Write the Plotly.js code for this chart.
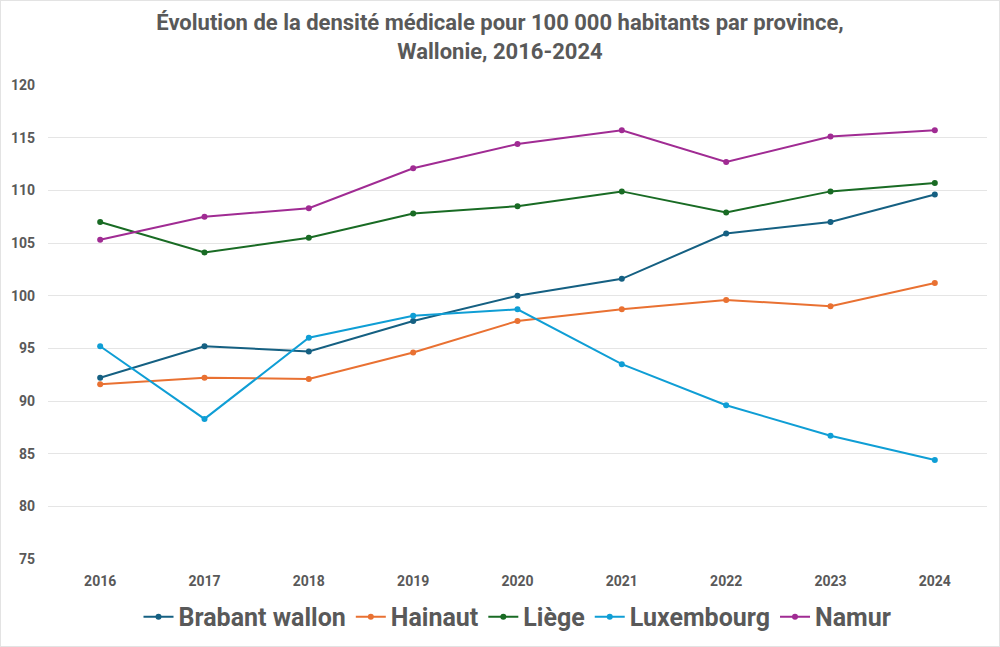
<!DOCTYPE html>
<html>
<head>
<meta charset="utf-8">
<script src="https://cdn.plot.ly/plotly-3.0.1.min.js"></script>
<style>
  body { margin: 0; background: #fff; }
  #chart { position: absolute; left: 0; top: 0; width: 1000px; height: 647px;
           box-sizing: border-box; border: 1px solid #e3e3e3; }
</style>
</head>
<body>
<div id="chart"></div>
<script>
// years on the x axis
const years = ['2016', '2017', '2018', '2019', '2020', '2021', '2022', '2023', '2024'];

// medical density per 100 000 inhabitants
const brabantWallon = [92.2, 95.2, 94.7, 97.6, 100.0, 101.6, 105.9, 107.0, 109.6];
const hainaut       = [91.6, 92.2, 92.1, 94.6, 97.6, 98.7, 99.6, 99.0, 101.2];
const liege         = [107.0, 104.1, 105.5, 107.8, 108.5, 109.9, 107.9, 109.9, 110.7];
const luxembourg    = [95.2, 88.3, 96.0, 98.1, 98.7, 93.5, 89.6, 86.7, 84.4];
const namur         = [105.3, 107.5, 108.3, 112.1, 114.4, 115.7, 112.7, 115.1, 115.7];

const seriesNames = ['Brabant wallon', 'Hainaut', 'Liège', 'Luxembourg', 'Namur'];
const seriesValues = [brabantWallon, hainaut, liege, luxembourg, namur];
const colors = ['#156082', '#E97132', '#196B24', '#0F9ED5', '#A02B93'];

const fontFamily = 'Roboto, "Liberation Sans", sans-serif';
const grey = '#595959';

const traces = seriesNames.map((name, i) => ({
  x: years,
  y: seriesValues[i],
  name: name,
  type: 'scatter',
  mode: 'lines+markers',
  line: { color: colors[i], width: 2 },
  marker: { color: colors[i], size: 6 }
}));

const layout = {
  width: 998,
  height: 645,
  margin: { l: 47, r: 12, t: 84, b: 87 },
  paper_bgcolor: '#fff',
  plot_bgcolor: '#fff',
  font: { family: fontFamily, color: grey },
  title: {
    text: '<b>Évolution de la densité médicale pour 100 000 habitants par province,<br>Wallonie, 2016-2024</b>',
    font: { family: fontFamily, size: 22, color: grey },
    x: 0.5,
    xanchor: 'center',
    yref: 'container',
    y: 0.955,
    yanchor: 'top',
    automargin: false
  },
  xaxis: {
    type: 'category',
    range: [-0.5, 8.5],
    showgrid: false,
    zeroline: false,
    showline: false,
    ticks: '',
    ticklabelstandoff: 12,
    tickfont: { family: fontFamily, size: 14, color: grey, weight: 'bold' }
  },
  yaxis: {
    range: [75, 120],
    dtick: 5,
    gridcolor: '#e5e5e5',
    gridwidth: 1,
    zeroline: false,
    showline: false,
    ticks: '',
    ticklabelstandoff: 12,
    tickfont: { family: fontFamily, size: 14, color: grey, weight: 'bold' }
  },
  showlegend: true,
  legend: {
    orientation: 'h',
    x: 0.5,
    xanchor: 'center',
    yref: 'container',
    y: 0.045,
    yanchor: 'middle',
    font: { family: fontFamily, size: 25, color: grey, weight: 'bold' },
    itemwidth: 30,
    tracegroupgap: 0
  }
};

Plotly.newPlot('chart', traces, layout, { displayModeBar: false, staticPlot: true });
</script>
</body>
</html>
